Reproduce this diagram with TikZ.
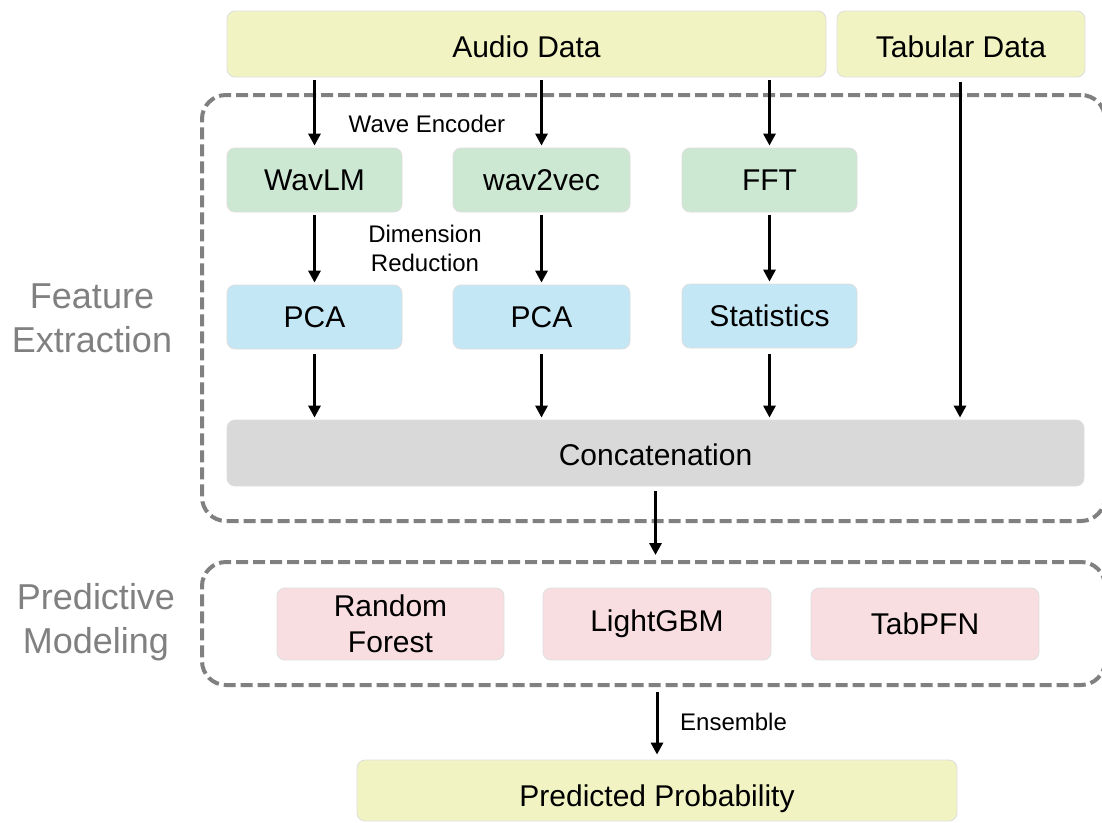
\documentclass[tikz,border=0pt]{standalone}
\usepackage{fontspec}
\setmainfont{Liberation Sans}
\usetikzlibrary{arrows.meta}
\definecolor{ybox}{HTML}{F1F4C2}
\definecolor{gbox}{HTML}{CCE8D3}
\definecolor{bbox}{HTML}{C4E7F5}
\definecolor{cbox}{HTML}{D9D9D9}
\definecolor{pbox}{HTML}{F9DEE1}
\definecolor{dashgray}{HTML}{808080}
\begin{document}
\begin{tikzpicture}[x=1pt,y=-1pt,
  box/.style={rounded corners=8pt, draw=black!13, line width=0.8pt, inner sep=0pt, align=center,
              font=\fontsize{30}{36}\selectfont},
  dashbox/.style={rounded corners=24pt, draw=dashgray, line width=4pt, dash pattern=on 12pt off 5pt, inner sep=0pt},
  arr/.style={line width=3pt, -{Triangle[length=12pt,width=12pt]}},
  lbl/.style={font=\fontsize{24}{29}\selectfont, align=center, inner sep=0pt},
  sect/.style={font=\fontsize{36}{44}\selectfont, text=dashgray, align=center, inner sep=0pt}]
\useasboundingbox (0,0) rectangle (1102,822);
% dashed section boxes
\node[dashbox, minimum width=903pt, minimum height=426pt] (fe) at (653.5,308) {};
\node[dashbox, minimum width=903pt, minimum height=123pt] (pm) at (653.5,623.5) {};
% boxes
\node[box, fill=ybox, minimum width=599pt, minimum height=66pt, text height=26pt, text depth=0pt] (audio) at (526.5,44) {Audio Data};
\node[box, fill=ybox, minimum width=248pt, minimum height=66pt, text height=26pt, text depth=0pt] (tab) at (961,44) {Tabular Data};
\node[box, fill=gbox, minimum width=175pt, minimum height=64pt] (wavlm) at (314.5,180) {WavLM};
\node[box, fill=gbox, minimum width=177pt, minimum height=64pt] (w2v) at (541.5,180) {wav2vec};
\node[box, fill=gbox, minimum width=175pt, minimum height=64pt] (fft) at (769.5,180) {FFT};
\node[box, fill=bbox, minimum width=175pt, minimum height=64pt] (pca1) at (314.5,317) {PCA};
\node[box, fill=bbox, minimum width=177pt, minimum height=64pt] (pca2) at (541.5,317) {PCA};
\node[box, fill=bbox, minimum width=175pt, minimum height=64pt] (stats) at (769.5,316) {Statistics};
\node[box, fill=cbox, minimum width=857pt, minimum height=66pt, text height=24pt, text depth=0pt] (concat) at (655.5,453) {Concatenation};
\node[box, fill=pbox, minimum width=227pt, minimum height=72pt] (rf) at (390.5,624) {Random\\Forest};
\node[box, fill=pbox, minimum width=228pt, minimum height=72pt] (lgbm) at (657,624) {LightGBM};
\node[box, fill=pbox, minimum width=228pt, minimum height=72pt] (tabpfn) at (925,624) {TabPFN};
\node[box, fill=ybox, minimum width=600pt, minimum height=61pt, text height=31pt, text depth=0pt] (pred) at (657,790.5) {Predicted Probability};
% labels
\node[lbl] (we) at (427,124) {Wave Encoder};
\node[lbl] (dr) at (425,248) {Dimension\\Reduction};
\node[sect] (fel) at (92,318) {Feature\\Extraction};
\node[sect] (pml) at (96,622) {Predictive\\Modeling};
% arrows
\draw[arr, shorten <=3pt, shorten >=2pt] (audio.south -| wavlm.north) -- (wavlm.north);
\draw[arr, shorten <=3pt, shorten >=2pt] (audio.south -| w2v.north) -- (w2v.north);
\draw[arr, shorten <=3pt, shorten >=2pt] (audio.south -| fft.north) -- (fft.north);
\draw[arr, shorten <=3pt, shorten >=2pt] (wavlm.south) -- (pca1.north);
\draw[arr, shorten <=3pt, shorten >=2pt] (w2v.south) -- (pca2.north);
\draw[arr, shorten <=3pt, shorten >=2pt] (fft.south) -- (stats.north);
\draw[arr, shorten <=5pt, shorten >=2pt] (pca1.south) -- (concat.north -| pca1.south);
\draw[arr, shorten <=5pt, shorten >=2pt] (pca2.south) -- (concat.north -| pca2.south);
\draw[arr, shorten <=6pt, shorten >=2pt] (stats.south) -- (concat.north -| stats.south);
\draw[arr, shorten <=5pt, shorten >=2pt] (tab.south -| 960,0) coordinate (tabs) -- (concat.north -| tabs);
\draw[arr, shorten <=5pt, shorten >=5pt] (concat.south) -- (concat.south |- pm.north);
\draw[arr, shorten <=5pt, shorten >=5pt] (pm.south -| pred.north) -- (pred.north);
\node[lbl, anchor=west] (ens) at (680,722) {Ensemble};
\end{tikzpicture}
\end{document}
